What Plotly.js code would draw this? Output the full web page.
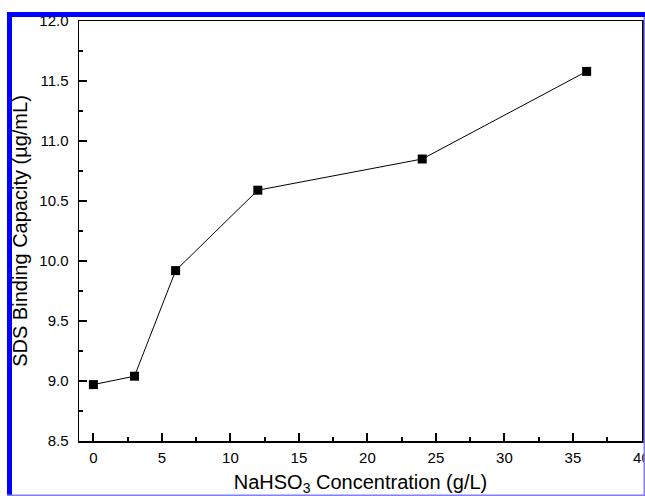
<!DOCTYPE html>
<html>
<head>
<meta charset="utf-8">
<script src="https://cdn.plot.ly/plotly-3.0.1.min.js"></script>
<style>
  html, body { margin: 0; padding: 0; background: #ffffff; }
  #chart { width: 645px; height: 496px; }
</style>
</head>
<body>
<div id="chart"></div>
<script>
// Data
var concentration = [0, 3, 6, 12, 24, 36];          // NaHSO3 concentration (g/L)
var bindingCapacity = [8.97, 9.04, 9.92, 10.59, 10.85, 11.58]; // SDS binding capacity (µg/mL)
var xTickValues = [0, 5, 10, 15, 20, 25, 30, 35, 40];
var xTickLabels = ['0', '5', '10', '15', '20', '25', '30', '35', '40'];
var yTickValues = [8.5, 9.0, 9.5, 10.0, 10.5, 11.0, 11.5, 12.0];
var yTickLabels = ['8.5', '9.0', '9.5', '10.0', '10.5', '11.0', '11.5', '12.0'];

// Layout geometry (pixels)
var W = 645, H = 496;
var mL = 79, mR = 3, mT = 21, mB = 55;
var plotW = W - mL - mR, plotH = H - mT - mB;
function px(x) { return (x - mL) / plotW; }
function py(y) { return (H - mB - y) / plotH; }

var blue = '#0000ff';
var lightBlue = '#8080ff';

var shapes = [
  {type: 'rect', xref: 'paper', yref: 'paper', x0: px(7), x1: px(645), y0: py(17), y1: py(12),
   fillcolor: blue, line: {width: 0}, layer: 'above'},
  {type: 'rect', xref: 'paper', yref: 'paper', x0: px(7), x1: px(12), y0: py(496), y1: py(12),
   fillcolor: blue, line: {width: 0}, layer: 'above'},
  {type: 'rect', xref: 'paper', yref: 'paper', x0: px(643.5), x1: px(645), y0: py(496), y1: py(17),
   fillcolor: lightBlue, line: {width: 0}, layer: 'above'},
  {type: 'rect', xref: 'paper', yref: 'paper', x0: px(7), x1: px(645), y0: py(496), y1: py(494.5),
   fillcolor: lightBlue, line: {width: 0}, layer: 'above'}
];

var trace = {
  x: concentration,
  y: bindingCapacity,
  type: 'scatter',
  mode: 'lines+markers',
  line: {color: '#000000', width: 1},
  marker: {symbol: 'square', size: 9, color: '#000000'},
  showlegend: false,
  hoverinfo: 'x+y',
  cliponaxis: false
};

var fontFamily = '"Liberation Sans", Arial, sans-serif';

var layout = {
  width: W,
  height: H,
  margin: {l: mL, r: mR, t: mT, b: mB, pad: 0},
  paper_bgcolor: '#ffffff',
  plot_bgcolor: '#ffffff',
  font: {family: fontFamily, color: '#000000', size: 15},
  showlegend: false,
  xaxis: {
    range: [-1.05, 40.04],
    tickmode: 'array',
    tickvals: xTickValues,
    ticktext: xTickLabels,
    ticks: 'inside',
    ticklen: 8,
    tickwidth: 2,
    tickcolor: '#000000',
    minor: {dtick: 2.5, ticks: 'inside', ticklen: 4, tickwidth: 2, tickcolor: '#000000', showgrid: false},
    showline: true,
    linecolor: '#000000',
    linewidth: 1.5,
    mirror: true,
    showgrid: false,
    zeroline: false,
    tickfont: {family: fontFamily, size: 15, color: '#000000'},
    ticklabelstandoff: 2,
    ticklabeloverflow: 'allow',
    title: {text: 'NaHSO<sub>3</sub> Concentration (g/L)', font: {family: fontFamily, size: 20, color: '#000000'}, standoff: 16},
    automargin: false
  },
  yaxis: {
    range: [8.5, 12],
    tickmode: 'array',
    tickvals: yTickValues,
    ticktext: yTickLabels,
    ticks: 'inside',
    ticklen: 8,
    tickwidth: 2,
    tickcolor: '#000000',
    minor: {dtick: 0.25, ticks: 'inside', ticklen: 4, tickwidth: 2, tickcolor: '#000000', showgrid: false},
    showline: true,
    linecolor: '#000000',
    linewidth: 1.5,
    mirror: true,
    showgrid: false,
    zeroline: false,
    tickfont: {family: fontFamily, size: 15, color: '#000000'},
    ticklabelstandoff: 6,
    ticklabeloverflow: 'allow',
    title: {text: 'SDS Binding Capacity (µg/mL)', font: {family: fontFamily, size: 20, color: '#000000'}, standoff: 6},
    automargin: false
  },
  shapes: shapes
};

Plotly.newPlot('chart', [trace], layout, {displayModeBar: false, staticPlot: true});
</script>
</body>
</html>
